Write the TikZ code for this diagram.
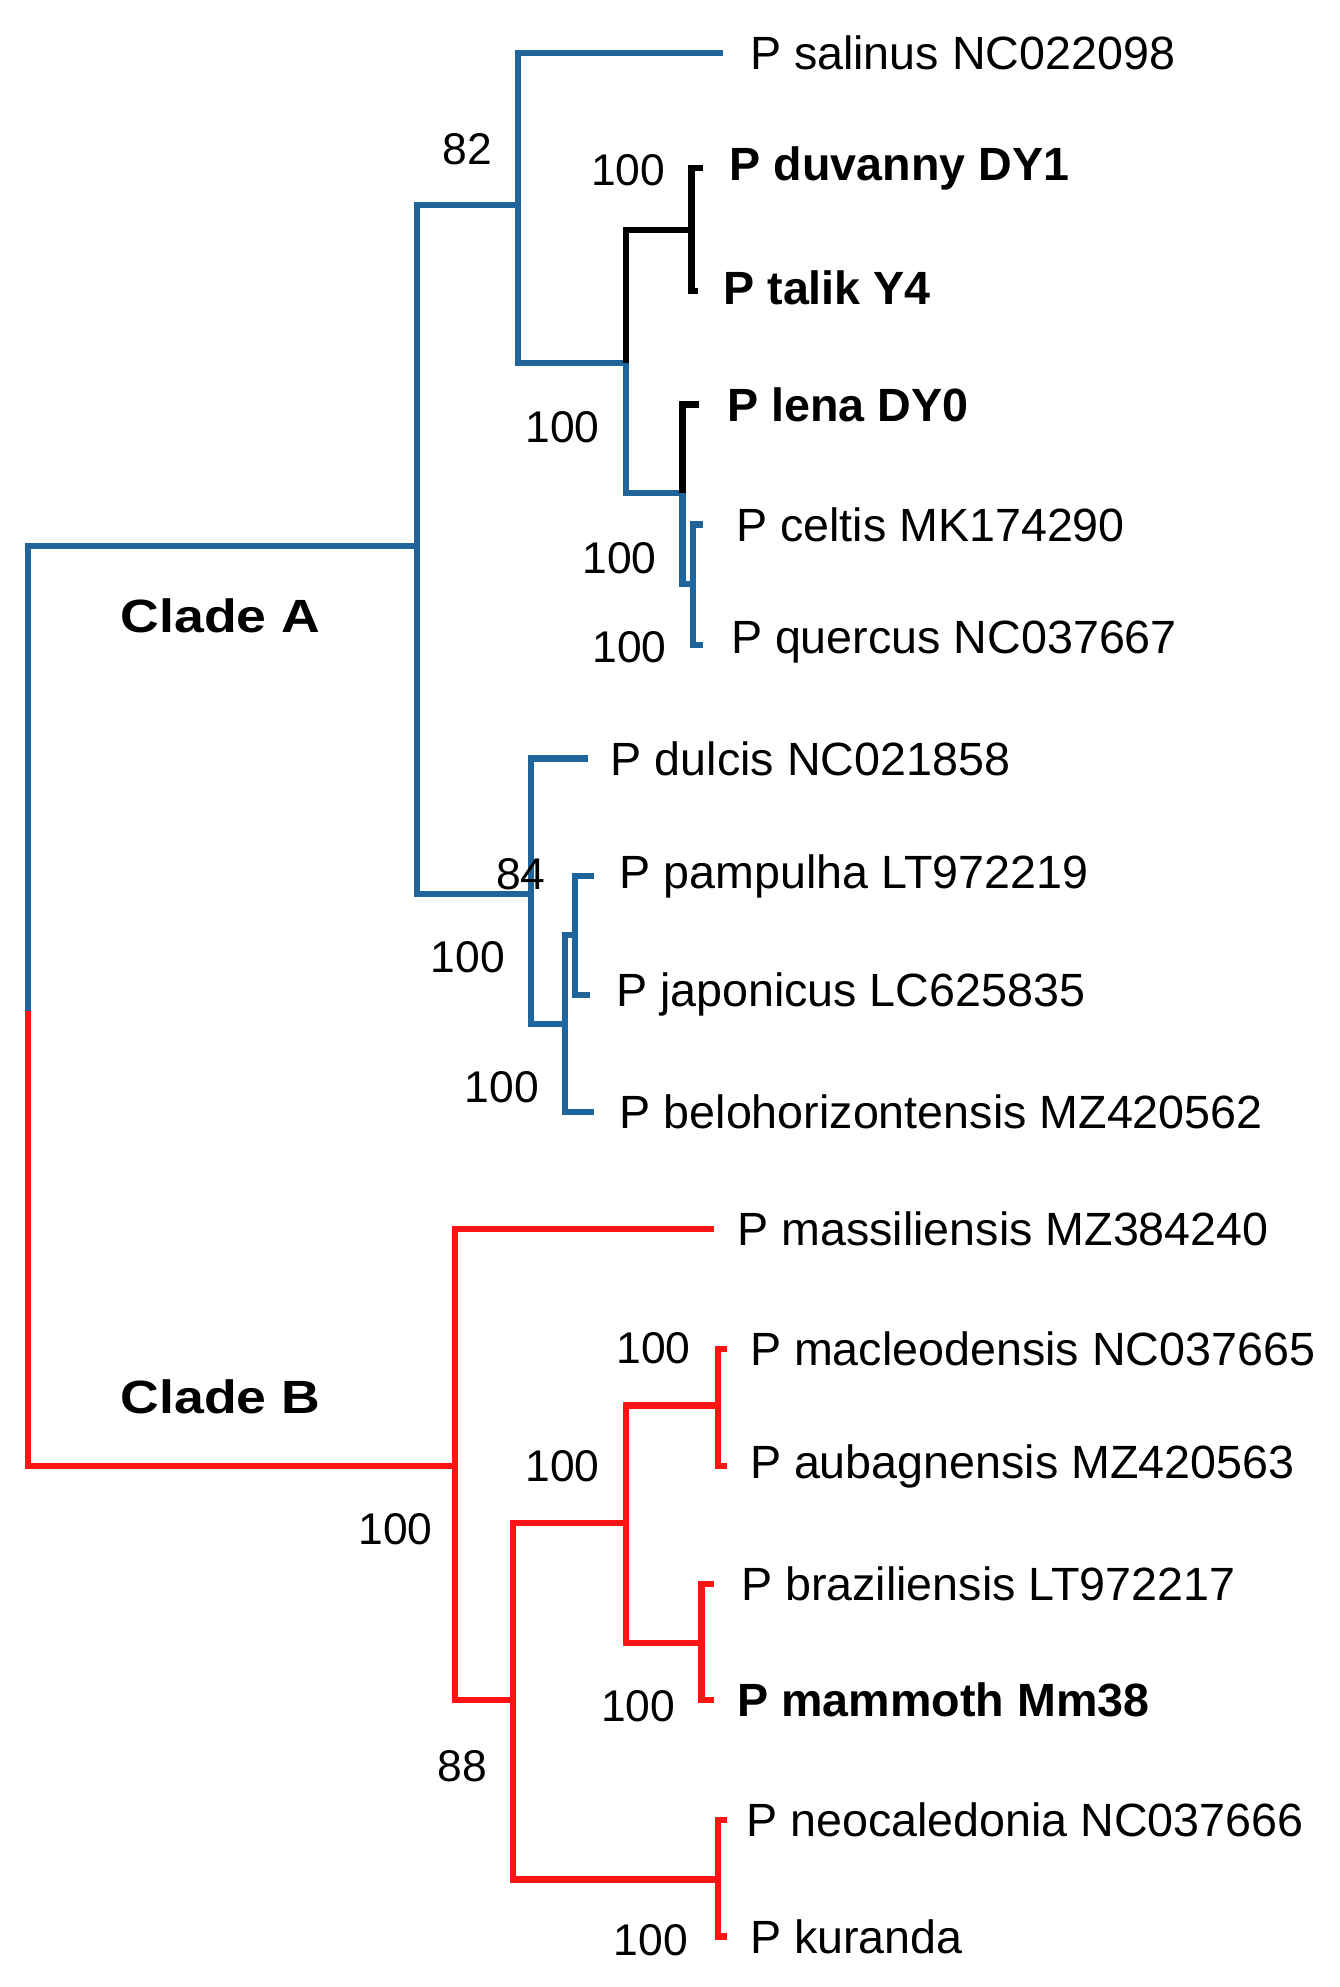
\documentclass[tikz,border=0pt]{standalone}
\usepackage{fontspec}
\setmainfont{Liberation Sans}
\definecolor{cladeA}{RGB}{31,100,155}
\definecolor{cladeB}{RGB}{255,20,20}
\tikzset{
  branch/.style={line width=2.8pt},
  leaf/.style={anchor=west, inner sep=0pt, font=\fontsize{21}{25}\selectfont},
  clade/.style={anchor=west, inner sep=0pt, font=\fontsize{21}{25}\selectfont\bfseries, xscale=1.15},
  boot/.style={inner sep=0pt, font=\fontsize{20}{24}\selectfont},
}
\begin{document}
\begin{tikzpicture}[x=0.02cm, y=-0.02cm]
    \useasboundingbox (0,0) rectangle (1060,1572);
    % root
    \draw[branch, cladeA] (330,432) -- (22,432) -- (22,800);
    \draw[branch, cladeB] (22,800) -- (22,1160) -- (360,1160);
    % clade A
    \draw[branch, cladeA] (410,162) -- (330,162) -- (330,707) -- (420,707);
    \draw[branch, cladeA] (572,42) -- (410,42) -- (410,287) -- (495,287);
    \draw[branch, cladeA] (495,287) -- (495,390) -- (540,390);
    \draw[branch] (495,287) -- (495,182) -- (547,182);
    \draw[branch] (556,133) -- (547,133) -- (547,230) -- (552,230);
    \draw[branch] (553,320) -- (540,320) -- (540,390);
    \draw[branch, cladeA] (540,390) -- (540,462) -- (548,462);
    \draw[branch, cladeA] (556,415) -- (548,415) -- (548,510) -- (556,510);
    \draw[branch, cladeA] (465,600) -- (420,600) -- (420,810) -- (447,810);
    \draw[branch, cladeA] (455,740) -- (447,740) -- (447,880) -- (470,880);
    \draw[branch, cladeA] (470,693) -- (455,693) -- (455,787) -- (467,787);
    % clade B
    \draw[branch, cladeB] (565,972) -- (360,972) -- (360,1345) -- (406,1345);
    \draw[branch, cladeB] (495,1205) -- (406,1205) -- (406,1487) -- (568,1487);
    \draw[branch, cladeB] (568,1112) -- (495,1112) -- (495,1300) -- (555,1300);
    \draw[branch, cladeB] (575,1067) -- (568,1067) -- (568,1160) -- (575,1160);
    \draw[branch, cladeB] (565,1253) -- (555,1253) -- (555,1345) -- (565,1345);
    \draw[branch, cladeB] (575,1440) -- (568,1440) -- (568,1532) -- (575,1532);
    % leaves
    \node[leaf] (salinus) at (593,42) {P salinus NC022098};
    \node[leaf] (duvanny) at (577,133) {\bfseries P duvanny DY1};
    \node[leaf] (talik) at (572,228) {\bfseries P talik Y4};
    \node[leaf] (lena) at (575,320) {\bfseries P lena DY0};
    \node[leaf] (celtis) at (582,415) {P celtis MK174290};
    \node[leaf] (quercus) at (578,508) {P quercus NC037667};
    \node[leaf] (dulcis) at (483,600) {P dulcis NC021858};
    \node[leaf] (pampulha) at (490,693) {P pampulha LT972219};
    \node[leaf] (japonicus) at (487,787) {P japonicus LC625835};
    \node[leaf] (belo) at (490,880) {P belohorizontensis MZ420562};
    \node[leaf] (massil) at (583,972) {P massiliensis MZ384240};
    \node[leaf] (macleo) at (593,1067) {P macleodensis NC037665};
    \node[leaf] (aubag) at (593,1160) {P aubagnensis MZ420563};
    \node[leaf] (brazil) at (586,1253) {P braziliensis LT972217};
    \node[leaf] (mammoth) at (583,1345) {\bfseries P mammoth Mm38};
    \node[leaf] (neocal) at (590,1440) {P neocaledonia NC037666};
    \node[leaf] (kuranda) at (593,1532) {P kuranda};
    % clades
    \node[clade] (cladeA) at (95,487) {Clade A};
    \node[clade] (cladeB) at (95,1105) {Clade B};
    % support values
    \node[boot] (b1) at (370,118) {82};
    \node[boot] (b2) at (497,135) {100};
    \node[boot] (b3) at (445,338) {100};
    \node[boot] (b4) at (490,442) {100};
    \node[boot] (b5) at (498,512) {100};
    \node[boot] (b6) at (412,692) {84};
    \node[boot] (b7) at (370,757) {100};
    \node[boot] (b8) at (397,860) {100};
    \node[boot] (b9) at (517,1067) {100};
    \node[boot] (b10) at (445,1160) {100};
    \node[boot] (b11) at (313,1210) {100};
    \node[boot] (b12) at (505,1350) {100};
    \node[boot] (b13) at (366,1397) {88};
    \node[boot] (b14) at (515,1535) {100};
\end{tikzpicture}
\end{document}
